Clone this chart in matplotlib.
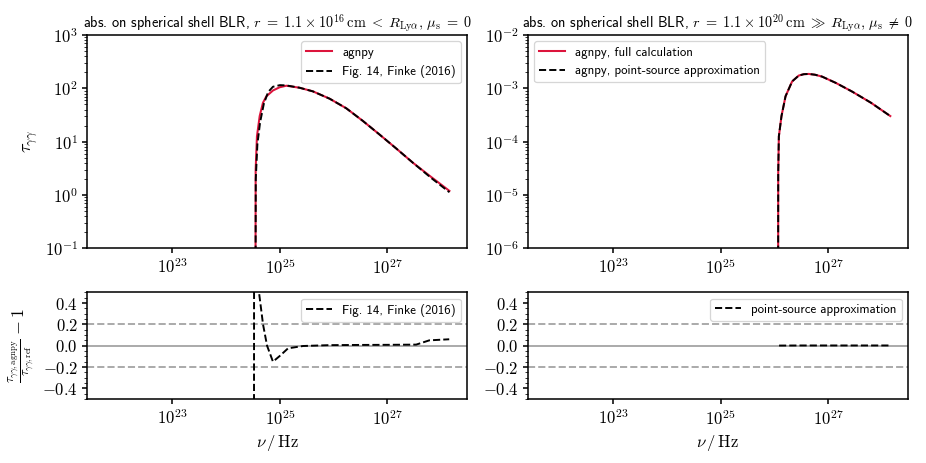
import numpy as np
import matplotlib
matplotlib.use("Agg")
import matplotlib.pyplot as plt
from matplotlib.ticker import AutoMinorLocator, NullLocator, FuncFormatter

plt.rcParams["font.family"] = ["cmss10", "DejaVu Sans"]
plt.rcParams["mathtext.fontset"] = "cm"
plt.rcParams["axes.linewidth"] = 1.2

# values (log10 of frequency / Hz and of tau)
lognu_agnpy_in = [24.543, 24.548, 24.572, 24.623, 24.684, 24.747, 24.87, 24.994,
                  25.118, 25.366, 25.614, 25.924, 26.234, 26.543, 26.853, 27.163,
                  27.473, 27.814, 28.154]
logtau_agnpy_in = [-3.0, 0.48, 1.10, 1.48, 1.73, 1.85, 1.96, 2.02,
                   2.049, 2.011, 1.943, 1.806, 1.626, 1.389, 1.134, 0.873,
                   0.606, 0.338, 0.077]

lognu_finke = [24.543, 24.55, 24.58, 24.63, 24.70, 24.78, 24.87, 25.0,
               25.118, 25.366, 25.614, 25.924, 26.234, 26.543, 26.853, 27.163,
               27.473, 27.814, 28.154]
logtau_finke = [-3.0, 0.30, 0.95, 1.36, 1.71, 1.93, 2.03, 2.06,
                2.055, 2.011, 1.943, 1.806, 1.626, 1.389, 1.134, 0.873,
                0.606, 0.32, 0.052]

lognu_ratio_finke = [24.517, 24.52, 24.58, 24.61, 24.685, 24.76, 24.87, 24.995,
                     25.15, 25.43, 25.92, 26.5, 27.0, 27.535, 27.78, 28.15]
ratio_finke = [-1.0, 3.0, 1.5, 0.5, 0.2, 0.0, -0.15, -0.097,
               -0.025, -0.003, 0.005, 0.007, 0.008, 0.01, 0.05, 0.06]

lognu_out = [26.072, 26.074, 26.086, 26.135, 26.21, 26.333, 26.457, 26.55, 26.643,
             26.76, 26.89, 27.15, 27.448, 27.8, 28.16]
logtau_out = [-8.0, -4.6, -3.90, -3.52, -3.15, -2.87, -2.76, -2.735, -2.73,
              -2.745, -2.78, -2.90, -3.06, -3.27, -3.52]

lognu_ratio_ps = [26.09, 26.5, 27.0, 27.5, 28.0, 28.16]
ratio_ps = [0.001, 0.002, 0.002, 0.002, 0.002, 0.002]

xlim = (10 ** 21.41, 10 ** 28.49)

log_fmt = FuncFormatter(lambda v, p: r"$10^{%d}$" % round(np.log10(v)))
lin_fmt = FuncFormatter(lambda v, p: r"$%.1f$" % (0.0 if abs(v) < 1e-9 else v))

fig, axes = plt.subplots(2, 2, figsize=(10, 5), dpi=92.6,
                         gridspec_kw={"height_ratios": [2, 1]})
fig.subplots_adjust(left=0.094, right=0.9806, top=0.9244, bottom=0.1382,
                    hspace=0.275, wspace=0.158)

title_in = (r"abs. on spherical shell BLR, $r\;=\;1.1 \:\times\: 10^{16}\,{\rm cm}\;<\;"
            r"R_{\rm Ly\alpha},\,\mu_{\rm s}\;=\;0$")
title_out = (r"abs. on spherical shell BLR, $r\;=\;1.1 \:\times\: 10^{20}\,{\rm cm}\;\gg\;"
             r"R_{\rm Ly\alpha},\,\mu_{\rm s}\;\neq\;0$")

ax = axes[0, 0]
ax.loglog(10 ** np.array(lognu_agnpy_in), 10 ** np.array(logtau_agnpy_in),
          color="crimson", lw=1.6, label="agnpy")
ax.loglog(10 ** np.array(lognu_finke), 10 ** np.array(logtau_finke),
          color="k", ls="--", lw=1.5, label="Fig. 14, Finke (2016)")
ax.set_ylim(1e-1, 1e3)
ax.set_ylabel(r"$\tau_{\gamma\gamma}$", fontsize=14)
ax.set_title(title_in, fontsize=11.2, pad=3)
ax.legend(loc="upper right", fontsize=10)

ax = axes[0, 1]
ax.loglog(10 ** np.array(lognu_out), 10 ** np.array(logtau_out),
          color="crimson", lw=1.6, label="agnpy, full calculation")
ax.loglog(10 ** np.array(lognu_out), 10 ** np.array(logtau_out),
          color="k", ls="--", lw=1.5, label="agnpy, point-source approximation")
ax.set_ylim(1e-6, 1e-2)
ax.set_title(title_out, fontsize=11.2, pad=3)
ax.legend(loc="upper left", fontsize=10)

for ax in axes[0]:
    ax.yaxis.set_major_formatter(log_fmt)

ax = axes[1, 0]
ax.semilogx(10 ** np.array(lognu_ratio_finke), ratio_finke,
            color="k", ls="--", lw=1.5, label="Fig. 14, Finke (2016)")
ax.set_ylabel(r"$\frac{\tau_{\gamma\gamma, {\rm agnpy}}}{\tau_{\gamma\gamma, {\rm ref}}} - 1$",
              fontsize=14)
ax.legend(loc="upper right", fontsize=10)

ax = axes[1, 1]
ax.semilogx(10 ** np.array(lognu_ratio_ps), ratio_ps,
            color="k", ls="--", lw=1.5, label="point-source approximation")
ax.legend(loc="upper right", fontsize=10)

for ax in axes[1]:
    ax.axhline(0, color="darkgray", ls="-", lw=1.5, zorder=0)
    ax.axhline(0.2, color="darkgray", ls="--", lw=1.5, zorder=0)
    ax.axhline(-0.2, color="darkgray", ls="--", lw=1.5, zorder=0)
    ax.set_ylim(-0.5, 0.5)
    ax.set_yticks([-0.4, -0.2, 0.0, 0.2, 0.4])
    ax.yaxis.set_major_formatter(lin_fmt)
    ax.yaxis.set_minor_locator(AutoMinorLocator(4))
    ax.set_xlabel(r"$\nu\,/\,{\rm Hz}$", fontsize=13)

for ax in axes.flat:
    ax.set_xlim(*xlim)
    ax.set_xticks([1e23, 1e25, 1e27])
    ax.xaxis.set_major_formatter(log_fmt)
    ax.xaxis.set_minor_locator(NullLocator())
    ax.tick_params(labelsize=13, width=1.2)

plt.savefig("out.png")
